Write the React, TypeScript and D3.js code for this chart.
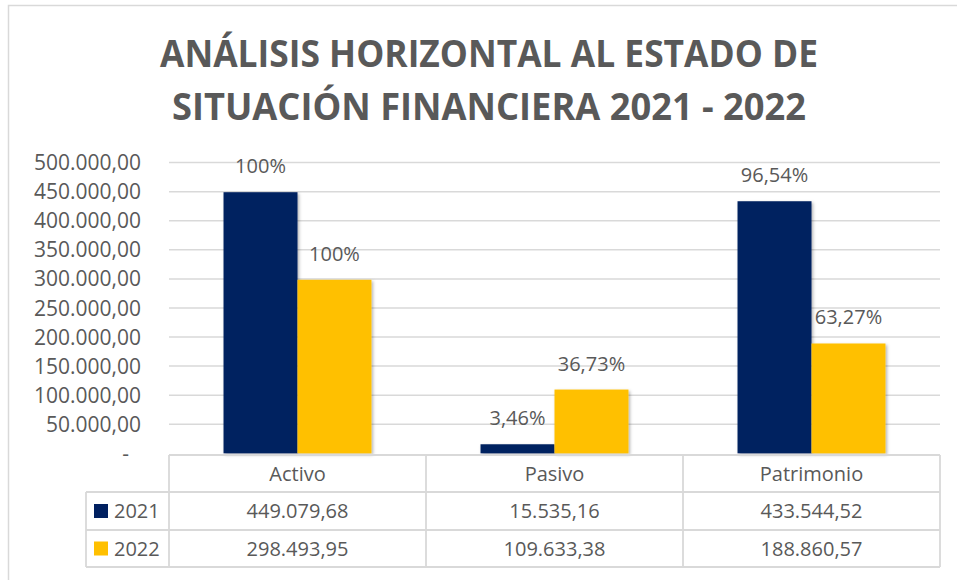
import * as d3 from 'd3'

const categories = ['Activo', 'Pasivo', 'Patrimonio']
const seriesNames = ['2021', '2022']
const values2021 = [449079.68, 15535.16, 433544.52]
const values2022 = [298493.95, 109633.38, 188860.57]
const labels2021 = ['100%', '3,46%', '96,54%']
const labels2022 = ['100%', '36,73%', '63,27%']
const tableText2021 = ['449.079,68', '15.535,16', '433.544,52']
const tableText2022 = ['298.493,95', '109.633,38', '188.860,57']
const yTicks = [0, 50000, 100000, 150000, 200000, 250000, 300000, 350000, 400000, 450000, 500000]
const titleLines = ['ANÁLISIS HORIZONTAL AL ESTADO DE', 'SITUACIÓN FINANCIERA 2021 - 2022']

const W = 957
const H = 580
const colors = ['#002060', '#FFC000']
const textColor = '#595959'
const lineColor = '#d9d9d9'
const font = '"Open Sans", sans-serif'

const plot = { left: 169, right: 940, top: 162.6, bottom: 453.3 }
const table = { legendLeft: 86, rows: [455, 492, 530, 567] }

const fmtTick = (v: number) => {
  if (v === 0) return '-'
  const s = d3.format(',.2f')(v)
  return s.replace(/,/g, 'X').replace(/\./g, ',').replace(/X/g, '.')
}

const App = () => {
  const y = d3.scaleLinear().domain([0, 500000]).range([plot.bottom, plot.top])
  const x0 = d3.scaleBand<string>().domain(categories).range([plot.left, plot.right])
  const x1 = d3.scaleBand<string>().domain(seriesNames).range([0, x0.bandwidth()]).paddingInner(0).paddingOuter(0.737)

  const series = [
    { name: seriesNames[0], values: values2021, labels: labels2021, text: tableText2021 },
    { name: seriesNames[1], values: values2022, labels: labels2022, text: tableText2022 },
  ]

  const colEdges = [...categories.map(c => x0(c)!), plot.right]

  return (
    <svg width={W} height={H} style={{ position: 'absolute', left: 0, top: 0 }} fontFamily={font}>
      <defs>
        <filter id="shadow" x="-20%" y="-20%" width="140%" height="140%">
          <feDropShadow dx="1.5" dy="1.5" stdDeviation="1.5" floodColor="#000" floodOpacity="0.3" />
        </filter>
      </defs>
      <rect x={0} y={0} width={W} height={H} fill="#fff" />
      <rect x={8.5} y={5.5} width={W + 10} height={H + 10} fill="none" stroke={lineColor} strokeWidth={1.5} />

      {/* title */}
      {titleLines.map((t, i) => (
        <text key={t} x={489} y={67 + i * 53} textAnchor="middle" fontSize={38} fontWeight={700} fill={textColor}
          textLength={i === 0 ? 658 : 634} lengthAdjust="spacingAndGlyphs">{t}</text>
      ))}

      {/* grid + y ticks */}
      {yTicks.map(t => (
        <g key={t}>
          {t > 0 && <line x1={plot.left} x2={plot.right} y1={y(t)} y2={y(t)} stroke={lineColor} strokeWidth={1.5} />}
          <text x={t === 0 ? 129 : 141} y={y(t)} dy="0.36em" textAnchor="end" fontSize={21} fill={textColor}>{fmtTick(t)}</text>
        </g>
      ))}

      {/* bars */}
      {series.map((s, si) => (
        <g key={s.name}>
          {categories.map((c, ci) => (
            <rect key={c} x={x0(c)! + x1(s.name)!} y={y(s.values[ci])} width={x1.bandwidth()}
              height={y(0) - y(s.values[ci])} fill={colors[si]} filter="url(#shadow)" />
          ))}
          {categories.map((c, ci) => (
            <text key={c + 'l'} x={x0(c)! + x1(s.name)! + x1.bandwidth() / 2} y={y(s.values[ci]) - 19}
              textAnchor="middle" fontSize={20} fill={textColor}>{s.labels[ci]}</text>
          ))}
        </g>
      ))}

      {/* data table */}
      <g stroke={lineColor} strokeWidth={1.8}>
        <line x1={plot.left} x2={plot.right} y1={table.rows[0]} y2={table.rows[0]} />
        {table.rows.slice(1).map(r => (
          <line key={r} x1={table.legendLeft} x2={plot.right} y1={r} y2={r} />
        ))}
        {colEdges.map(e => (
          <line key={e} x1={e} x2={e} y1={table.rows[0]} y2={table.rows[3]} />
        ))}
        <line x1={table.legendLeft} x2={table.legendLeft} y1={table.rows[1]} y2={table.rows[3]} />
      </g>
      {categories.map(c => (
        <text key={c} x={x0(c)! + x0.bandwidth() / 2} y={(table.rows[0] + table.rows[1]) / 2} dy="0.36em"
          textAnchor="middle" fontSize={20} fill={textColor}>{c}</text>
      ))}
      {series.map((s, si) => {
        const cy = (table.rows[si + 1] + table.rows[si + 2]) / 2
        return (
          <g key={s.name}>
            <rect x={94} y={cy - 7} width={14} height={14} fill={colors[si]} />
            <text x={114} y={cy} dy="0.36em" fontSize={20} fill={textColor}>{s.name}</text>
            {categories.map((c, ci) => (
              <text key={c} x={x0(c)! + x0.bandwidth() / 2} y={cy} dy="0.36em" textAnchor="middle"
                fontSize={20} fill={textColor}>{s.text[ci]}</text>
            ))}
          </g>
        )
      })}
    </svg>
  )
}

export default App
